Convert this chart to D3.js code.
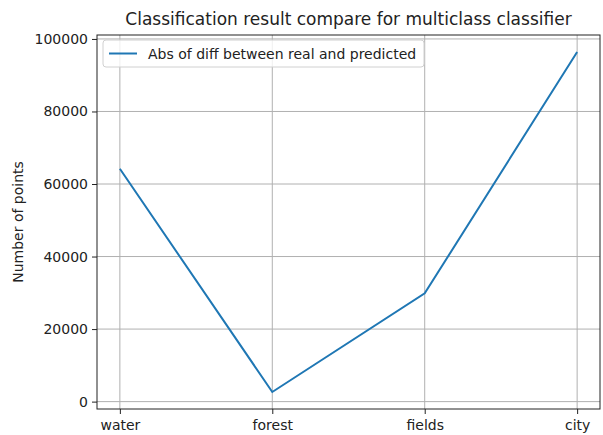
<!DOCTYPE html>
<html>
<head>
<meta charset="utf-8">
<script src="https://cdn.jsdelivr.net/npm/d3@7"></script>
<style>
  body { margin: 0; background: #fff; }
  text { font-family: "DejaVu Sans", sans-serif; fill: #222; }
</style>
</head>
<body>
<svg id="chart"></svg>
<script>
// chart data
const categories = ['water', 'forest', 'fields', 'city'];
const diffValues = [64200, 2650, 29850, 96400];
const yTicks = [0, 20000, 40000, 60000, 80000, 100000];
const seriesName = 'Abs of diff between real and predicted';

const W = 603, H = 435;
const margin = { top: 35, right: 3, bottom: 26, left: 97 };
const width = W - margin.left - margin.right;
const height = H - margin.top - margin.bottom;

const svg = d3.select('#chart').attr('width', W).attr('height', H);
const g = svg.append('g').attr('transform', `translate(${margin.left},${margin.top})`);

// matplotlib-like 5% padding
const xScale = d3.scaleLinear().domain([-0.15, 3.15]).range([0, width]);
const yMin = d3.min(diffValues), yMax = d3.max(diffValues), pad = (yMax - yMin) * 0.05;
const yScale = d3.scaleLinear().domain([yMin - pad, yMax + pad]).range([height, 0]);

// grid
g.append('g').selectAll('line').data(categories).enter().append('line')
    .attr('x1', (d, i) => xScale(i)).attr('x2', (d, i) => xScale(i))
    .attr('y1', 0).attr('y2', height)
    .attr('stroke', '#b0b0b0').attr('stroke-width', 1);
g.append('g').selectAll('line').data(yTicks).enter().append('line')
    .attr('x1', 0).attr('x2', width)
    .attr('y1', d => yScale(d)).attr('y2', d => yScale(d))
    .attr('stroke', '#b0b0b0').attr('stroke-width', 1);

// axes
const xAxis = g.append('g').attr('transform', `translate(0,${height})`)
    .call(d3.axisBottom(xScale).tickValues([0, 1, 2, 3]).tickFormat(i => categories[i]).tickSize(5).tickPadding(6));
const yAxis = g.append('g')
    .call(d3.axisLeft(yScale).tickValues(yTicks).tickFormat(d3.format('d')).tickSize(5).tickPadding(4));
[xAxis, yAxis].forEach(a => {
    a.select('.domain').remove();
    a.selectAll('text').attr('font-size', 14).style('fill', '#222');
    a.selectAll('line').attr('stroke', '#222');
});

// frame
g.append('rect').attr('width', width).attr('height', height)
    .attr('fill', 'none').attr('stroke', '#222').attr('stroke-width', 1);

// line
const line = d3.line().x((d, i) => xScale(i)).y(d => yScale(d));
g.append('path').datum(diffValues)
    .attr('d', line).attr('fill', 'none')
    .attr('stroke', '#1f77b4').attr('stroke-width', 2);

// legend
const lg = g.append('g').attr('transform', 'translate(6,5)');
lg.append('rect').attr('width', 321).attr('height', 27).attr('rx', 3)
    .attr('fill', 'rgba(255,255,255,0.8)').attr('stroke', '#d0d0d0');
lg.append('line').attr('x1', 6).attr('x2', 34).attr('y1', 13.5).attr('y2', 13.5)
    .attr('stroke', '#1f77b4').attr('stroke-width', 2);
lg.append('text').attr('x', 45).attr('y', 18.5).attr('font-size', 14).text(seriesName);

// title and axis label
svg.append('text').attr('x', margin.left + width / 2).attr('y', 25)
    .attr('text-anchor', 'middle').attr('font-size', 17)
    .text('Classification result compare for multiclass classifier');
svg.append('text').attr('transform', `translate(23,${margin.top + height / 2}) rotate(-90)`)
    .attr('text-anchor', 'middle').attr('font-size', 14).text('Number of points');
</script>
</body>
</html>
